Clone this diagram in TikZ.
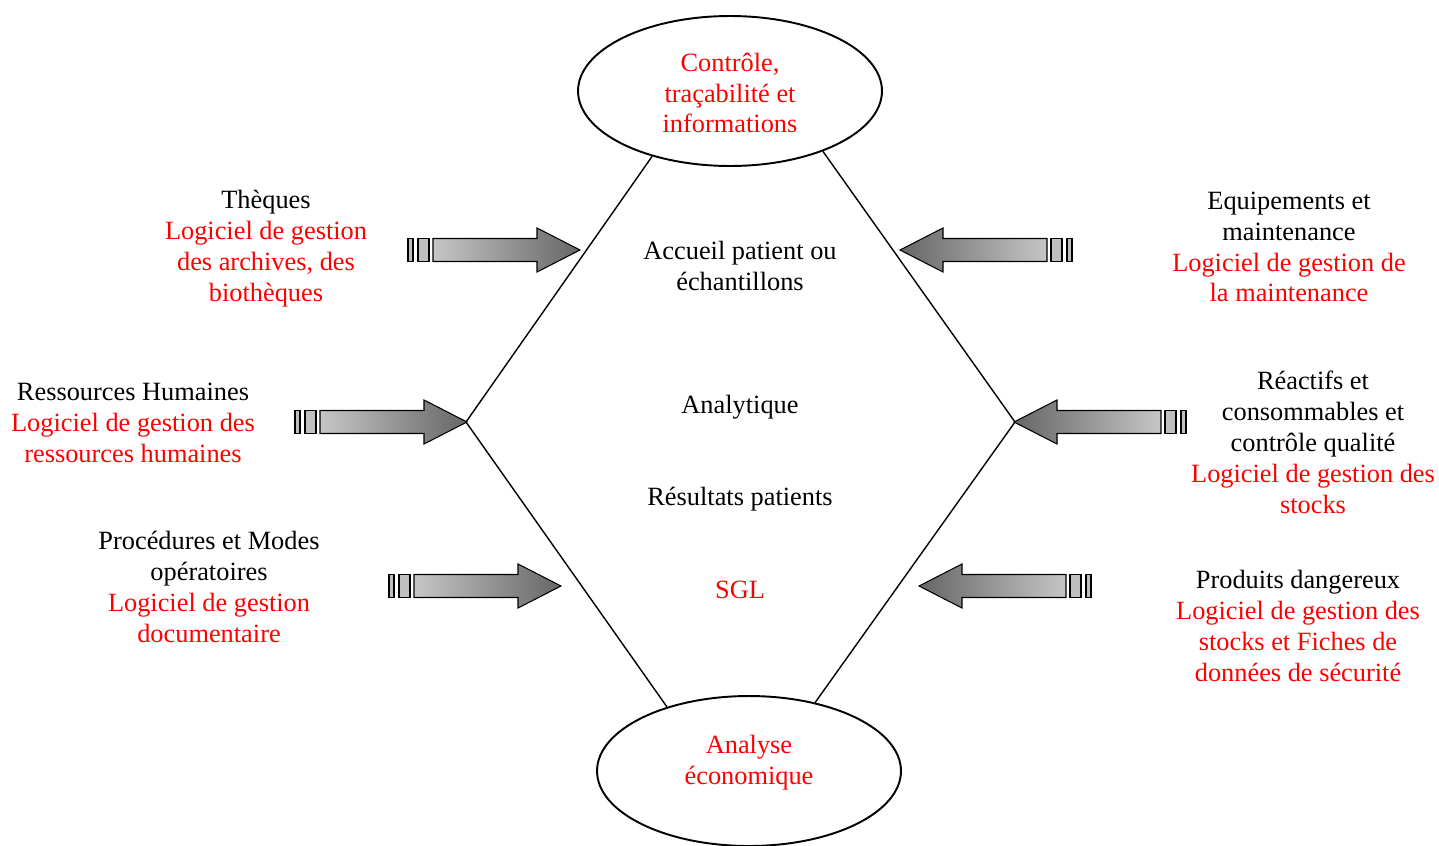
\documentclass[tikz,border=0pt]{standalone}
\usepackage{fontspec}
\setmainfont{Liberation Serif}
\usetikzlibrary{shapes.geometric}

\newcommand{\rd}{\color{red}}

\tikzset{
  txt/.style={align=center, font=\fontsize{15}{17.6}\selectfont, inner sep=0pt},
  redtxt/.style={txt, text=red},
  oval/.style={draw, ellipse, line width=1.1pt, minimum width=6.08cm, minimum height=3cm, inner sep=0pt},
  side/.style={line width=0.8pt},
  stripe/.style={draw, line width=0.6pt, fill=gray!50},
  headright/.style={left color=gray!45, right color=gray!80!black},
  headleft/.style={left color=gray!80!black, right color=gray!45},
  pics/fatarrow/.style={code={
    \draw[stripe] (0,-11.5) rectangle (5,11.5);
    \draw[stripe] (10,-11.5) rectangle (21,11.5);
    \draw[line width=0.6pt, #1]
      (25,-11.5) -- (129,-11.5) -- (129,-22) -- (172,0) -- (129,22) -- (129,11.5) -- (25,11.5) -- cycle;
  }}
}

\begin{document}
\begin{tikzpicture}[x=0.02cm, y=-0.02cm]
	\useasboundingbox (0,0) rectangle (1439,845);
	% ovals top and bottom
	\node[oval] (ctrl) at (730,91) {};
	\node[redtxt] (ctrltxt) at (730,93) {Contrôle,\\traçabilité et\\informations};
	\node[oval] (eco) at (749,771) {};
	\node[redtxt] (ecotxt) at (749,763) {Analyse\\économique};
	% hexagon
	\coordinate (lv) at (466,422);
	\coordinate (rv) at (1015,422);
	\draw[side] (ctrl.220) -- (lv) -- (eco.142);
	\draw[side] (ctrl.-33) -- (rv) -- (eco.46);
	% centre
	\node[txt] (accueil) at (740,266) {Accueil patient ou\\échantillons};
	\node[txt] (analyt) at (740,407) {Analytique};
	\node[txt] (result) at (740,499) {Résultats patients};
	\node[redtxt] (sgl) at (740,590) {SGL};
	% left side
	\node[txt] (theques) at (266,249) {Thèques\\\rd Logiciel de gestion\\\rd des archives, des\\\rd biothèques};
	\node[txt] (rh) at (133,423) {Ressources Humaines\\\rd Logiciel de gestion des\\\rd ressources humaines};
	\node[txt] (proc) at (209,587) {Procédures et Modes\\opératoires\\\rd Logiciel de gestion\\\rd documentaire};
	% right side
	\node[txt] (equip) at (1289,247) {Equipements et\\maintenance\\\rd Logiciel de gestion de\\\rd la maintenance};
	\node[txt] (reactifs) at (1313,442) {Réactifs et\\consommables et\\contrôle qualité\\\rd Logiciel de gestion des\\\rd stocks};
	\node[txt] (danger) at (1298,626) {Produits dangereux\\\rd Logiciel de gestion des\\\rd stocks et Fiches de\\\rd données de sécurité};
	% arrows
	\pic (a1) at (408,250) {fatarrow=headright};
	\pic (a2) at (295,422) {fatarrow=headright};
	\pic (a3) at (389,586) {fatarrow=headright};
	\pic[xscale=-1] (a4) at (1072,250) {fatarrow=headleft};
	\pic[xscale=-1] (a5) at (1186,422) {fatarrow=headleft};
	\pic[xscale=-1] (a6) at (1091,586) {fatarrow=headleft};
\end{tikzpicture}
\end{document}
